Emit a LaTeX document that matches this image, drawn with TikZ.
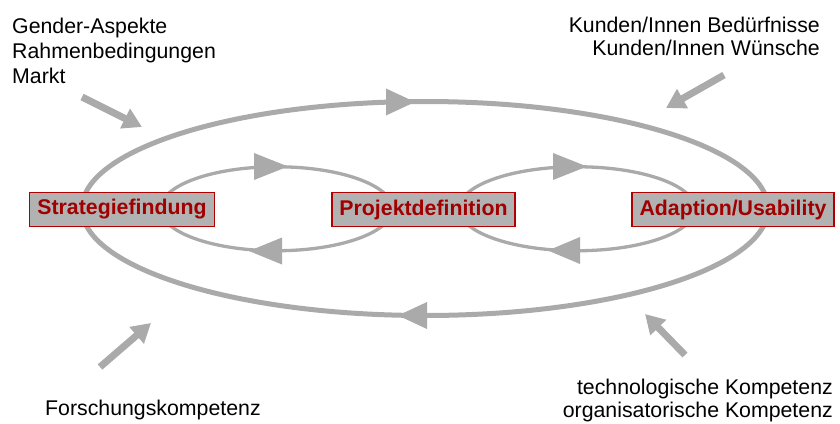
\documentclass[tikz,border=0pt]{standalone}
\usepackage{fontspec}
\setmainfont{Liberation Sans}
\usetikzlibrary{arrows.meta}
\definecolor{cyc}{HTML}{AAAAAA}
\definecolor{boxfill}{HTML}{B2B2B2}
\definecolor{boxred}{HTML}{A00000}
\definecolor{boxline}{HTML}{B00000}
\tikzset{
  lbl/.style={inner sep=0pt, font=\fontsize{21.3pt}{25pt}\selectfont, text=black},
  stagebox/.style={draw=boxline, line width=1.2pt, fill=boxfill, text=boxred,
    font=\fontsize{21.3pt}{25pt}\selectfont\bfseries, minimum height=34pt,
    inner xsep=7.5pt, inner ysep=0pt},
  outerloop/.style={draw=cyc, line width=5pt},
  innerloop/.style={draw=cyc, line width=3.3pt},
  cychead/.style={fill=cyc, draw=none},
  influx/.style={draw=cyc, line width=7pt, -{Triangle[length=19pt,width=21pt]}}
}
\begin{document}
\begin{tikzpicture}[x=1pt,y=-1pt]
\useasboundingbox (0,0) rectangle (840,423);
% loops
\draw[outerloop] (425,208.5) ellipse [x radius=343, y radius=107];
\draw[innerloop] (276.5,208.75) ellipse [x radius=116, y radius=42];
\draw[innerloop] (577,208.75) ellipse [x radius=118, y radius=42];
% arrow heads on the loops
\fill[cychead] (415,102) -- (386,88.5) -- (386,115.5) -- cycle;
\fill[cychead] (398,315.5) -- (427,302) -- (427,329) -- cycle;
\fill[cychead] (288,166.5) -- (254,153) -- (254,180) -- cycle;
\fill[cychead] (249,251) -- (282,237.5) -- (282,264.5) -- cycle;
\fill[cychead] (587,166.5) -- (553,153) -- (553,180) -- cycle;
\fill[cychead] (548,250.5) -- (580,237) -- (580,264) -- cycle;
% stage boxes
\node[stagebox] (strat) at (122,209.5) {Strategiefindung};
\node[stagebox] (proj) at (423.5,209.5) {Projektdefinition};
\node[stagebox] (adapt) at (733,209.5) {Adaption/Usability};
% texts
\node[lbl, anchor=north west, align=left] (tl) at (12,17.5) {Gender-Aspekte\\Rahmenbedingungen\\Markt};
\node[lbl, anchor=north east, align=right, font=\fontsize{21.3pt}{23pt}\selectfont] (tr) at (820,16.5) {Kunden/Innen Bedürfnisse\\Kunden/Innen Wünsche};
\node[lbl, anchor=north west] (bl) at (45,399.5) {Forschungskompetenz};
\node[lbl, anchor=north east, align=right, font=\fontsize{21.3pt}{23pt}\selectfont] (br) at (833,378.5) {technologische Kompetenz\\organisatorische Kompetenz};
% influence arrows
\coordinate (tlA) at (82,97);   \coordinate (tlB) at (142,127);
\coordinate (trA) at (724,75);  \coordinate (trB) at (666,108);
\coordinate (blA) at (100,367); \coordinate (blB) at (151,323);
\coordinate (brA) at (685,355); \coordinate (brB) at (645,314);
\draw[influx] (tlA) -- (tlB);
\draw[influx] (trA) -- (trB);
\draw[influx] (blA) -- (blB);
\draw[influx] (brA) -- (brB);
\end{tikzpicture}
\end{document}
